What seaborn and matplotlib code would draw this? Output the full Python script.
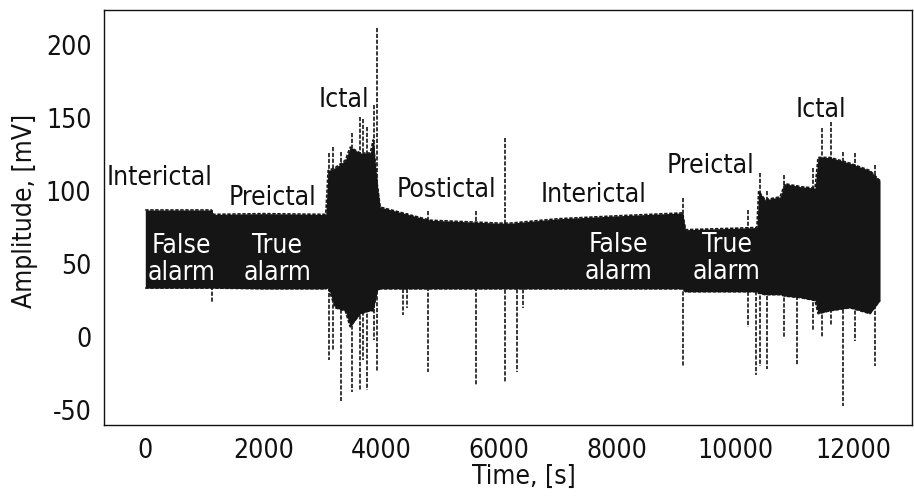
import matplotlib
matplotlib.use("Agg")
import matplotlib.pyplot as plt
import seaborn as sns
import pandas as pd

# ---- data ----
# envelope of the dense signal: time [s], upper and lower amplitude [mV]
env_time = [0, 1120, 1150, 2000, 3060, 3100, 3220, 3390, 3475, 3644, 3814, 3864,
            3932, 3983, 4830, 6000, 6190, 7000, 8000, 9110, 9160, 10000, 10370,
            10400, 10508, 10763, 10847, 11102, 11356, 11407, 11610, 11949, 12288, 12458]
env_upper = [87, 87, 84, 84.5, 84, 114, 116, 121, 130, 126, 126, 135,
             105, 89, 80, 78, 78, 81, 83, 85, 73.5, 74.5, 75,
             100, 94, 96, 105, 103, 102, 123, 123, 119, 114, 107]
env_lower = [33.5, 33.5, 33.5, 33, 33, 34, 20, 18, 7, 16, 18, 18,
             32, 33, 33, 33, 33, 33, 33, 33, 31, 31, 31,
             30, 29, 29, 28, 27, 25, 16, 18, 20, 16, 25]

# isolated spikes: time [s], top and bottom amplitude [mV]
spike_time = [1136, 3119, 3186, 3322, 3508, 3644, 3695, 3763, 3881, 3932,
              4373, 4441, 4797, 5610, 6102, 6305, 6407, 9119, 10220, 10356,
              10424, 10542, 10831, 11051, 11322, 11475, 11627, 11831, 12034, 12373]
spike_top = [87, 126, 130, 127, 140, 151, 149, 144, 159, 212,
             85, 85, 86, 86, 136, 77, 77, 95, 87, 75,
             112, 100, 111, 104, 116, 143, 147, 127, 126, 118]
spike_bottom = [24, -16, -9, -44, -38, -36, -16, -36, -2, -24,
                15, 20, -24, -33, -31, -24, 20, -20, 7, -26,
                -20, -22, -1, -19, 5, 0, 8, -47, -3, -20]

phase_labels = ["Interictal", "Preictal", "Ictal", "Postictal", "Interictal", "Preictal", "Ictal"]
phase_x = [237, 2153, 3364, 5102, 7602, 9576, 11458]
phase_y = [104, 90.4, 157.5, 95.9, 92.5, 112.3, 150.7]

alarm_first = ["False", "True", "False", "True"]
alarm_second = ["alarm", "alarm", "alarm", "alarm"]
alarm_x = [610, 2237, 8017, 9864]
alarm_y1 = [57.5, 57.5, 58, 58]
alarm_y2 = [39, 39, 39.5, 40]

x_ticks = [0, 2000, 4000, 6000, 8000, 10000, 12000]
y_ticks = [-50, 0, 50, 100, 150, 200]

# ---- plotting ----
sns.set_theme(style="white")
plt.rcParams["font.family"] = ["DejaVu Sans"]
plt.rcParams["font.stretch"] = "condensed"
col = "#151515"
FS = 19

fig = plt.figure(figsize=(9.14, 4.96), dpi=100)
ax = fig.add_axes([104 / 914, 1 - 425 / 496, 808 / 914, 415 / 496])

env = pd.DataFrame({"t": env_time, "upper": env_upper, "lower": env_lower})
ax.fill_between(env["t"], env["lower"], env["upper"], color=col, lw=0)
sns.lineplot(data=env, x="t", y="upper", ax=ax, color=col, lw=1.2,
             linestyle=(0, (2, 1)), sort=False)
sns.lineplot(data=env, x="t", y="lower", ax=ax, color=col, lw=1.2,
             linestyle=(0, (2, 1)), sort=False)

rows = []
for i, (t, top, bot) in enumerate(zip(spike_time, spike_top, spike_bottom)):
    rows.append({"spike": i, "t": t, "v": top})
    rows.append({"spike": i, "t": t, "v": bot})
spikes = pd.DataFrame(rows)
sns.lineplot(data=spikes, x="t", y="v", units="spike", estimator=None, sort=False,
             ax=ax, color=col, lw=1.2, linestyle=(0, (2.5, 1)))

for lab, x, y in zip(phase_labels, phase_x, phase_y):
    ax.text(x, y, lab, ha="center", va="baseline", fontsize=FS, color="#111111")
for a, b, x, y1, y2 in zip(alarm_first, alarm_second, alarm_x, alarm_y1, alarm_y2):
    ax.text(x, y1, a, ha="center", va="baseline", fontsize=FS, color="white")
    ax.text(x, y2, b, ha="center", va="baseline", fontsize=FS, color="white")

ax.set_xlim(-700, 13000)
ax.set_ylim(-60.3, 224)
ax.set_xticks(x_ticks)
ax.set_yticks(y_ticks)
ax.set_xticklabels([str(v) for v in x_ticks])
ax.set_yticklabels([str(v) for v in y_ticks])
ax.tick_params(axis="both", labelsize=FS, length=0, pad=9, colors="#111111")

ax.set_xlabel("Time, [s]", fontsize=FS, color="#111111")
ax.set_ylabel("Amplitude, [mV]", fontsize=FS, color="#111111")
ax.xaxis.set_label_coords(0.52, -0.095)
ax.yaxis.set_label_coords(-0.082, 0.516)

for s in ax.spines.values():
    s.set_color("#111111")
    s.set_linewidth(1.0)

fig.savefig("out.png", dpi=100)
